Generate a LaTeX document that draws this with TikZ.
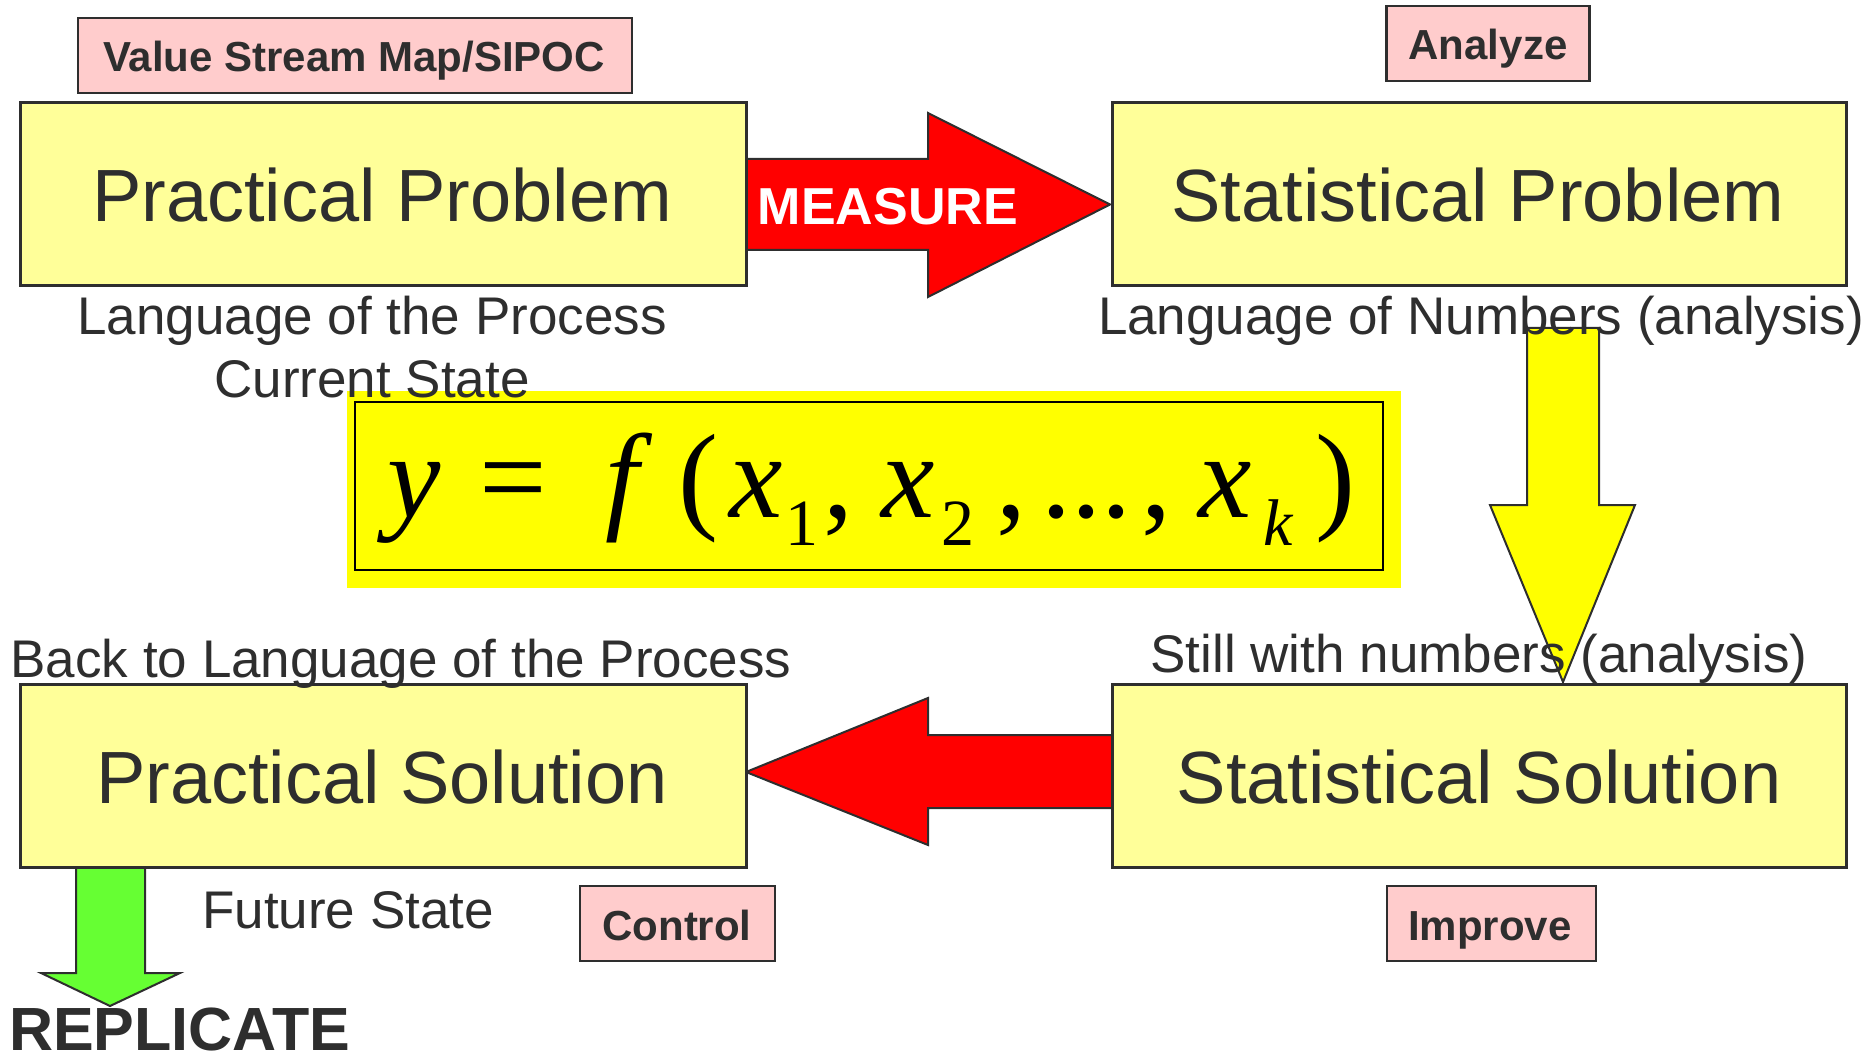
\documentclass[tikz,border=0pt]{standalone}
\usepackage{fontspec}
\setmainfont{Liberation Sans}
\newfontfamily\eqfont{Liberation Serif}
\definecolor{dgray}{HTML}{2E2E2E}
\definecolor{lyellow}{HTML}{FFFF99}
\definecolor{lpink}{HTML}{FFCCCC}
\definecolor{gyellow}{HTML}{FFFF00}
\definecolor{gred}{HTML}{FF0000}
\definecolor{ggreen}{HTML}{66FF33}
\tikzset{
  probbox/.style={draw=dgray, line width=3pt, fill=lyellow, inner sep=0pt},
  tagbox/.style={draw=dgray, line width=2.5pt, fill=lpink, inner sep=0pt},
  arrowshape/.style={draw=dgray, line width=2pt, line join=miter},
  bigtxt/.style={font=\fontsize{74}{80}\selectfont, text=dgray, anchor=base, inner sep=0pt},
  midtxt/.style={font=\fontsize{53}{60}\selectfont, text=dgray, anchor=base, inner sep=0pt},
  tagtxt/.style={font=\bfseries\fontsize{42}{48}\selectfont, text=dgray, anchor=base, inner sep=0pt},
  eqit/.style={font=\eqfont\itshape\fontsize{120}{130}\selectfont, anchor=base, inner sep=0pt},
  equp/.style={font=\eqfont\fontsize{120}{130}\selectfont, anchor=base, inner sep=0pt},
  eqsub/.style={font=\eqfont\fontsize{66}{70}\selectfont, anchor=base, inner sep=0pt},
  eqsubit/.style={font=\eqfont\itshape\fontsize{66}{70}\selectfont, anchor=base, inner sep=0pt},
}
\begin{document}
\begin{tikzpicture}[x=1pt,y=-1pt]
\useasboundingbox (0,0) rectangle (1872,1064);

% block arrows
\draw[arrowshape, fill=gred] (746,159) -- (928,159) -- (928,113) -- (1110,204.5) -- (928,297) -- (928,250) -- (746,250) -- cycle;
\draw[arrowshape, fill=gyellow] (1527,328) -- (1599,328) -- (1599,505) -- (1635,505) -- (1563,682) -- (1490,505) -- (1527,505) -- cycle;
\draw[arrowshape, fill=gred] (1112,735) -- (928,735) -- (928,698) -- (746,772) -- (928,845) -- (928,808) -- (1112,808) -- cycle;
\draw[arrowshape, fill=ggreen] (76,867) -- (145,867) -- (145,973) -- (180,973) -- (110,1006) -- (41,973) -- (76,973) -- cycle;

% main boxes
\node[probbox, minimum width=726pt, minimum height=183pt] (pp) at (383,194.5) {};
\node[probbox, minimum width=734pt, minimum height=183pt] (sp) at (1479,194.5) {};
\node[probbox, minimum width=726pt, minimum height=183pt] (ps) at (383,775.5) {};
\node[probbox, minimum width=734pt, minimum height=183pt] (ss) at (1479,775.5) {};

% tag boxes
\node[tagbox, minimum width=554pt, minimum height=75pt] (vsm) at (355,55.5) {};
\node[tagbox, minimum width=203pt, minimum height=75pt] (ana) at (1488,43.5) {};
\node[tagbox, minimum width=195pt, minimum height=75pt] (ctl) at (677.5,923.5) {};
\node[tagbox, minimum width=209pt, minimum height=75pt] (imp) at (1491.5,923.5) {};

% equation box
\node[fill=gyellow, minimum width=1054pt, minimum height=197pt, inner sep=0pt] (eqbg) at (874,489.5) {};
\node[draw=black, line width=2.5pt, fill=gyellow, minimum width=1028pt, minimum height=168pt, inner sep=0pt] (eqbox) at (869,486) {};

% box texts
\node[bigtxt] (tpp) at (382,222) {Practical Problem};
\node[bigtxt] (tsp) at (1478,222) {Statistical Problem};
\node[bigtxt] (tps) at (382,803) {Practical Solution};
\node[bigtxt] (tss) at (1479,803) {Statistical Solution};

\node[font=\bfseries\fontsize{52}{56}\selectfont, text=white, anchor=base, inner sep=0pt] (meas) at (888,225) {MEASURE};

\node[tagtxt] (tvsm) at (354,72) {Value Stream Map/SIPOC};
\node[tagtxt] (tana) at (1488,60) {Analyze};
\node[tagtxt] (tctl) at (677,940) {Control};
\node[tagtxt] (timp) at (1490,940) {Improve};

% free texts
\node[midtxt] (l1) at (372,335) {Language of the Process};
\node[midtxt] (l2) at (372,398) {Current State};
\node[midtxt] (l3) at (1481,335) {Language of Numbers (analysis)};
\node[midtxt] (l4) at (1479,672) {Still with numbers (analysis)};
\node[midtxt] (l5) at (401,677) {Back to Language of the Process};
\node[midtxt] (l6) at (348,928) {Future State};
\node[font=\bfseries\fontsize{61}{66}\selectfont, text=dgray, anchor=base west, inner sep=0pt] (rep) at (9,1050) {REPLICATE};

% equation
\node[eqit] (e1) at (414,517) {y};
\node[equp] (e2) at (513,517) {=};
\node[eqit] (e3) at (622,517) {f};
\node[equp] (e4) at (698,517) {(};
\node[eqit] (e5) at (756,517) {x};
\node[eqsub] (e6) at (802,545) {1};
\node[equp] (e7) at (838,517) {,};
\node[eqit] (e8) at (908,517) {x};
\node[eqsub] (e9) at (958,545) {2};
\node[equp] (e10) at (1011,517) {,};
\node[equp] (e11) at (1086,517) {...};
\node[equp] (e12) at (1156,517) {,};
\node[eqit] (e13) at (1225,517) {x};
\node[eqsubit] (e14) at (1278,545) {k};
\node[equp] (e15) at (1335,517) {)};
\end{tikzpicture}
\end{document}
